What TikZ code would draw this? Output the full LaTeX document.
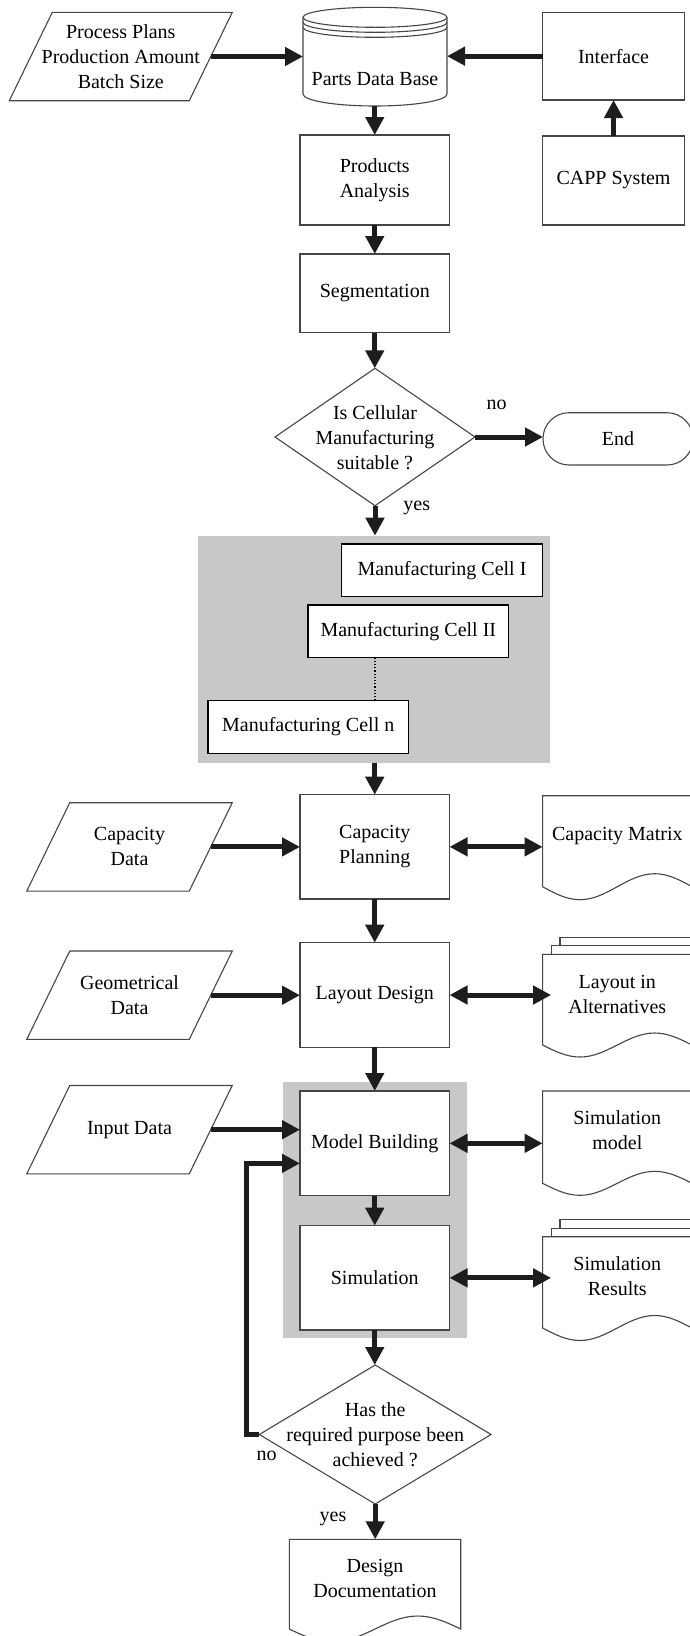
\documentclass[tikz,border=0pt]{standalone}
\usepackage{fontspec}
\setmainfont{Liberation Serif}
\usetikzlibrary{arrows.meta,shapes.geometric,calc}
\definecolor{grp}{RGB}{199,200,202}
\definecolor{lnc}{RGB}{70,70,70}
\definecolor{arc}{RGB}{30,28,30}
\newcommand\docshape[5]{%
  \pgfmathsetmacro\docq{(#3-#1)/4}%
  \draw[thinln,fill=white] (#3,#2) -- (#1,#2) -- (#1,#4) sin ++(\docq,#5) cos ++(\docq,-#5) sin ++(\docq,-#5) cos ++(\docq,#5) -- cycle;}
\begin{document}
\begin{tikzpicture}[x=1pt,y=-1pt,
  every node/.style={font=\fontsize{20}{25}\selectfont, align=center, inner sep=0pt, outer sep=0pt},
  thinln/.style={draw=lnc, line width=1.1pt},
  procbox/.style={thinln, fill=white, minimum width=149.5pt},
  cellbox/.style={draw=black, line width=1.4pt, fill=white, minimum width=200.6pt, minimum height=52.6pt},
  arr/.style={line width=5pt, draw=arc, -{Triangle[length=18pt,width=18pt]}},
  darr/.style={line width=5pt, draw=arc, {Triangle[length=18pt,width=18pt]}-{Triangle[length=18pt,width=18pt]}},
  para/.style={minimum height=88.4pt},
  docnode/.style={minimum width=149.4pt},
]
\useasboundingbox (0,0) rectangle (689,1636);

% grey groups
\node[fill=grp, minimum width=351.7pt, minimum height=227pt] (g1) at (374.15,649.2) {};
\node[fill=grp, minimum width=183.2pt, minimum height=256pt] (g2) at (375,1210.3) {};

% cylinder (Parts Data Base)
\draw[thinln,fill=white] (303,17.3) -- (303,94) arc[start angle=180, end angle=360, x radius=72pt, y radius=12pt]
  -- (447,17.3) arc[start angle=0, end angle=180, x radius=72pt, y radius=10pt] -- cycle;
\draw[thinln] (303,17.3) arc[start angle=180, end angle=360, x radius=72pt, y radius=10pt];
\draw[thinln] (303,22.3) arc[start angle=180, end angle=360, x radius=72pt, y radius=10pt];
\draw[thinln] (303,27.3) arc[start angle=180, end angle=360, x radius=72pt, y radius=10pt];
\node[minimum width=144pt, minimum height=98.6pt] (db) at (375,56.7) {};
\node (dbt) at (375,79) {Parts Data Base};

% parallelograms
\node[para, minimum width=180pt] (pp) at (120.8,56.5) {Process Plans\\Production Amount\\Batch Size};
\node[para, minimum width=162.5pt] (cd) at (129.5,846.9) {Capacity\\Data};
\node[para, minimum width=162.5pt] (gd) at (129.5,995.2) {Geometrical\\Data};
\node[para, minimum width=162.5pt] (id) at (129.5,1129.7) {Input Data};
\foreach \n in {pp,cd,gd,id}{
  \draw[thinln] ([xshift=-21.5pt]\n.south west) -- ([xshift=-21.5pt]\n.south east)
    -- ([xshift=21.5pt]\n.north east) -- ([xshift=21.5pt]\n.north west) -- cycle;
}

% process boxes
\node[procbox, minimum height=90pt] (prod) at (374.75,180) {Products\\Analysis};
\node[procbox, minimum height=78.7pt] (seg) at (374.75,293.35) {Segmentation};
\node[procbox, minimum height=104.3pt] (cap) at (374.75,846.85) {Capacity\\Planning};
\node[procbox, minimum height=104.6pt] (lay) at (374.75,995) {Layout Design};
\node[procbox, minimum height=104.7pt] (model) at (374.75,1143.35) {Model Building};
\node[procbox, minimum height=104.3pt] (sim) at (374.75,1277.85) {Simulation};
\node[thinln, fill=white, minimum width=141.9pt, minimum height=87.7pt] (intf) at (613.55,56.15) {Interface};
\node[thinln, fill=white, minimum width=141.9pt, minimum height=89pt] (capp) at (613.55,180.5) {CAPP System};

% decisions
\node[diamond, thinln, minimum width=200pt, minimum height=137.4pt] (d1) at (375,437) {};
\node (d1t) at (375,437.7) {Is Cellular\\Manufacturing\\suitable ?};
\node[diamond, thinln, minimum width=231.7pt, minimum height=139pt] (d2) at (375.2,1434.5) {};
\node (d2t) at (375.2,1435) {Has the\\required purpose been\\achieved ?};
\node[thinln, rounded corners=26pt, minimum width=150pt, minimum height=52.3pt] (end) at (618,438.85) {End};

% manufacturing cells
\node[cellbox] (c1) at (442,570.3) {Manufacturing Cell I};
\node[cellbox] (c2) at (408.3,631.2) {Manufacturing Cell II};
\node[cellbox] (cn) at (308.2,727) {Manufacturing Cell n};
\draw[line width=1.2pt, dotted] (c2.south -| d1.south) -- (cn.north -| d1.south);

% documents
\docshape{542.6}{795.7}{692}{886.7}{13}
\node[docnode] (cm) at (617.3,836) {Capacity Matrix};
\draw[thinln,fill=white] (560,937.3) rectangle (700,990);
\draw[thinln,fill=white] (551.2,945.7) rectangle (700,990);
\docshape{542.6}{954.3}{692}{1045}{12}
\node[docnode] (la) at (617.3,994.2) {Layout in\\Alternatives};
\docshape{542.6}{1091}{692}{1183.3}{12}
\node[docnode] (smd) at (617.3,1130) {Simulation\\model};
\draw[thinln,fill=white] (560,1219.3) rectangle (700,1270);
\draw[thinln,fill=white] (551.2,1228.3) rectangle (700,1270);
\docshape{542.6}{1236.7}{692}{1328}{12.5}
\node[docnode] (sr) at (617.3,1275.8) {Simulation\\Results};
\docshape{289.3}{1539.3}{460.7}{1629}{13}
\node[minimum width=171.4pt, minimum height=77.4pt] (dd) at (375,1578) {Design\\Documentation};

% labels
\node (no1) at (496.7,405) {no};
\node (yes1) at (416.7,508) {yes};
\node (no2) at (266.7,1456) {no};
\node (yes2) at (333,1519) {yes};

% connectors
\draw[arr] (pp.east) -- (pp.east -| db.west);
\draw[arr] (intf.west) -- (intf.west -| db.east);
\draw[arr] (capp.north) -- (intf.south);
\draw[arr] (db.south -| prod.north) -- (prod.north);
\draw[arr] (prod.south) -- (seg.north);
\draw[arr] (seg.south) -- (seg.south |- d1.north);
\draw[arr] (d1.east) -- (d1.east -| end.west);
\draw[arr] (d1.south) -- (d1.south |- g1.north);
\draw[arr] (cap.north |- g1.south) -- (cap.north);
\draw[arr] (cd.east) -- (cd.east -| cap.west);
\draw[darr] (cap.east) -- (cap.east -| cm.west);
\draw[arr] (cap.south) -- (lay.north);
\draw[arr] (gd.east) -- (gd.east -| lay.west);
\draw[darr] (lay.east) -- ($(lay.east -| la.west)+(8.5,0)$);
\draw[arr] (lay.south) -- (model.north);
\draw[arr] (id.east) -- (id.east -| model.west);
\draw[darr] (model.east) -- (model.east -| smd.west);
\draw[arr] (model.south) -- (sim.north);
\draw[darr] (sim.east) -- ($(sim.east -| sr.west)+(8.5,0)$);
\draw[arr] (sim.south) -- (sim.south |- d2.north);
\draw[arr] (d2.west) -- ++(-12.6,0) |- ([yshift=-20pt]model.west);
\draw[arr] (d2.south) -- (d2.south |- dd.north);
\end{tikzpicture}
\end{document}
